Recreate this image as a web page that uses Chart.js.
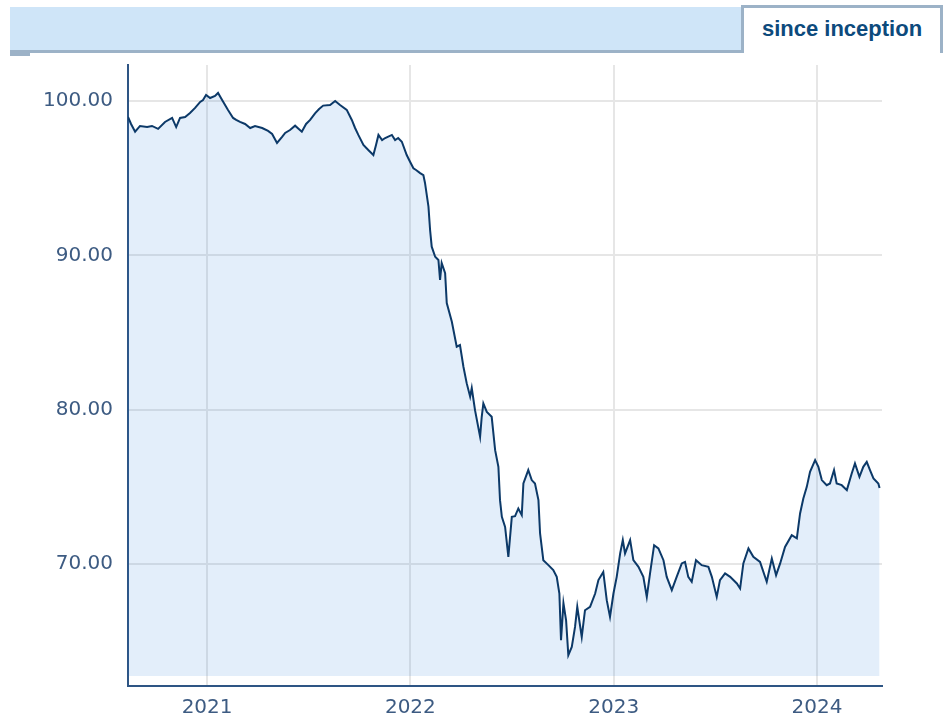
<!DOCTYPE html>
<html>
<head>
<meta charset="utf-8">
<script src="https://cdn.jsdelivr.net/npm/chart.js@4/dist/chart.umd.min.js"></script>
<style>
  html, body { margin: 0; padding: 0; background: #ffffff; }
  body { width: 949px; height: 717px; position: relative; overflow: hidden; }
  #chart { position: absolute; left: 0; top: 0; }
  .bar { position: absolute; left: 10px; top: 7px; width: 731px; height: 43px; background: #cfe5f8; border-bottom: 3px solid #9cb2c7; }
  .notch { position: absolute; left: 10px; top: 53px; width: 20px; height: 3px; background: #9cb2c7; }
  .tab { position: absolute; left: 741px; top: 5px; width: 202px; height: 48px; background: #ffffff;
         border-top: 3px solid #9cb2c7; border-left: 3px solid #9cb2c7; border-right: 3px solid #9cb2c7;
         box-sizing: border-box; font-family: "Liberation Sans", Arial, sans-serif; font-weight: bold;
         font-size: 22px; color: #0d4a7c; text-align: center; line-height: 42px; }
</style>
</head>
<body>
<canvas id="chart" width="949" height="717"></canvas>
<div class="bar"></div>
<div class="notch"></div>
<div class="tab">since inception</div>
<script>
// Dates as decimal years
const dates = [
  2020.611, 2020.626, 2020.646, 2020.670, 2020.705, 2020.729, 2020.759, 2020.793, 2020.828, 2020.848,
  2020.867, 2020.892, 2020.916, 2020.941, 2020.966, 2020.980, 2020.995, 2021.015, 2021.039, 2021.054,
  2021.074, 2021.103, 2021.128, 2021.143, 2021.162, 2021.187, 2021.212, 2021.236, 2021.271, 2021.300,
  2021.320, 2021.344, 2021.369, 2021.384, 2021.408, 2021.433, 2021.466, 2021.487, 2021.507, 2021.531,
  2021.551, 2021.571, 2021.605, 2021.630, 2021.654, 2021.687, 2021.712, 2021.728, 2021.744, 2021.769,
  2021.793, 2021.818, 2021.831, 2021.843, 2021.861, 2021.876, 2021.909, 2021.925, 2021.940, 2021.958,
  2021.982, 2021.999, 2022.015, 2022.028, 2022.048, 2022.064, 2022.072, 2022.089, 2022.097, 2022.105,
  2022.122, 2022.138, 2022.146, 2022.154, 2022.171, 2022.179, 2022.204, 2022.228, 2022.244, 2022.261,
  2022.277, 2022.294, 2022.302, 2022.318, 2022.343, 2022.351, 2022.359, 2022.376, 2022.400, 2022.417,
  2022.433, 2022.441, 2022.450, 2022.466, 2022.482, 2022.499, 2022.515, 2022.531, 2022.548, 2022.556,
  2022.580, 2022.597, 2022.613, 2022.630, 2022.638, 2022.654, 2022.679, 2022.703, 2022.720, 2022.733,
  2022.741, 2022.753, 2022.766, 2022.777, 2022.794, 2022.810, 2022.821, 2022.843, 2022.859, 2022.884,
  2022.909, 2022.925, 2022.949, 2022.966, 2022.982, 2022.999, 2023.015, 2023.032, 2023.045, 2023.056,
  2023.081, 2023.097, 2023.122, 2023.146, 2023.163, 2023.179, 2023.199, 2023.220, 2023.245, 2023.261,
  2023.286, 2023.310, 2023.335, 2023.351, 2023.367, 2023.384, 2023.405, 2023.433, 2023.466, 2023.483,
  2023.507, 2023.523, 2023.548, 2023.573, 2023.606, 2023.622, 2023.638, 2023.663, 2023.687, 2023.720,
  2023.753, 2023.778, 2023.799, 2023.819, 2023.843, 2023.876, 2023.901, 2023.917, 2023.933, 2023.950,
  2023.966, 2023.991, 2024.007, 2024.024, 2024.048, 2024.064, 2024.084, 2024.097, 2024.122, 2024.147,
  2024.171, 2024.187, 2024.209, 2024.228, 2024.245, 2024.261, 2024.278, 2024.302, 2024.308
];
// Fund value (indexed to 100)
const values = [
  98.96, 98.51, 98.01, 98.38, 98.31, 98.38, 98.19, 98.64, 98.90, 98.31,
  98.90, 98.96, 99.22, 99.55, 99.94, 100.06, 100.39, 100.19, 100.32, 100.52,
  100.06, 99.42, 98.90, 98.77, 98.64, 98.51, 98.25, 98.38, 98.25, 98.06,
  97.86, 97.28, 97.67, 97.93, 98.12, 98.40, 98.01, 98.51, 98.77, 99.20,
  99.48, 99.70, 99.74, 100.00, 99.74, 99.42, 98.77, 98.25, 97.80, 97.15,
  96.82, 96.50, 97.15, 97.80, 97.47, 97.60, 97.80, 97.47, 97.60, 97.36,
  96.50, 96.05, 95.64, 95.53, 95.33, 95.20, 94.69, 93.15, 91.64, 90.56,
  89.91, 89.70, 88.40, 89.50, 88.85, 86.91, 85.70, 84.08, 84.19, 82.78,
  81.72, 80.84, 81.40, 79.97, 78.24, 79.54, 80.41, 79.86, 79.54, 77.38,
  76.30, 74.14, 73.06, 72.41, 70.47, 73.06, 73.10, 73.60, 73.17, 75.22,
  76.09, 75.44, 75.22, 74.14, 71.98, 70.25, 69.93, 69.61, 69.17, 68.09,
  65.07, 67.47, 66.36, 64.10, 64.63, 65.93, 67.23, 65.28, 67.01, 67.23,
  68.09, 68.96, 69.49, 67.66, 66.58, 68.09, 69.17, 70.69, 71.55, 70.69,
  71.55, 70.25, 69.82, 69.17, 67.87, 69.39, 71.22, 71.01, 70.25, 69.17,
  68.31, 69.17, 70.04, 70.14, 69.17, 68.85, 70.25, 69.93, 69.82, 69.17,
  67.87, 68.96, 69.39, 69.17, 68.74, 68.42, 70.04, 71.01, 70.47, 70.14,
  68.85, 70.36, 69.28, 70.04, 71.11, 71.87, 71.66, 73.28, 74.25, 75.00,
  75.98, 76.73, 76.30, 75.44, 75.11, 75.22, 76.09, 75.22, 75.11, 74.79,
  75.87, 76.52, 75.65, 76.30, 76.62, 76.09, 75.55, 75.22, 74.92
];
const xTicks = [2021, 2022, 2023, 2024];
const yTicks = [70, 80, 90, 100];

const points = dates.map((d, i) => ({ x: d, y: values[i] }));

const tickColor = '#3d5b82';
const gridColor = '#e6e6e6';
const axisColor = '#2e5584';

new Chart(document.getElementById('chart'), {
  type: 'line',
  data: {
    datasets: [{
      data: points,
      borderColor: '#0c3968',
      borderWidth: 2,
      backgroundColor: 'rgba(25,118,210,0.12)',
      fill: { value: 62.75 },
      pointRadius: 0,
      tension: 0
    }]
  },
  options: {
    responsive: false,
    animation: false,
    layout: { padding: { left: 0, right: 67, top: 65, bottom: 0 } },
    plugins: { legend: { display: false }, tooltip: { enabled: false } },
    scales: {
      x: {
        type: 'linear',
        min: 2020.611,
        max: 2024.320,
        afterBuildTicks: s => { s.ticks = xTicks.map(v => ({ value: v })); },
        afterFit: s => { s.height = 31; },
        grid: { color: gridColor, lineWidth: 2, drawTicks: false },
        border: { color: axisColor, width: 2 },
        ticks: {
          color: tickColor,
          padding: 10,
          font: { family: 'DejaVu Sans', size: 20 },
          maxRotation: 0,
          callback: v => String(v)
        }
      },
      y: {
        type: 'linear',
        min: 62.1,
        max: 102.33,
        afterBuildTicks: s => { s.ticks = yTicks.map(v => ({ value: v })); },
        afterFit: s => { s.width = 128; },
        grid: { color: gridColor, lineWidth: 2, drawTicks: false },
        border: { color: axisColor, width: 2 },
        ticks: {
          color: tickColor,
          padding: 15,
          font: { family: 'DejaVu Sans', size: 20 },
          callback: v => Number(v).toFixed(2)
        }
      }
    }
  }
});
</script>
</body>
</html>
